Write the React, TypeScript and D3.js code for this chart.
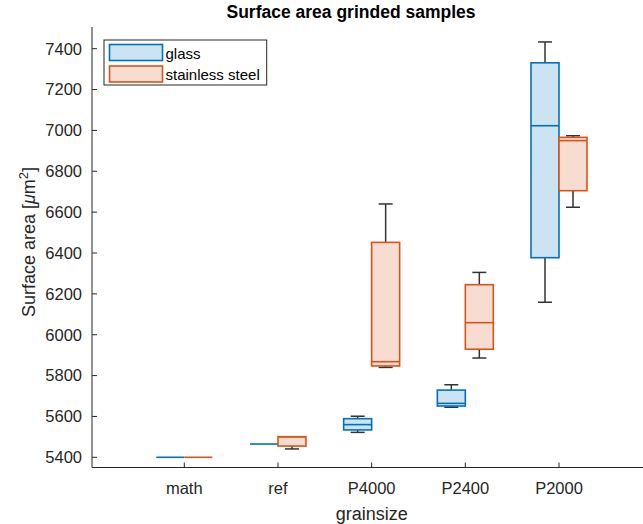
import React from "react";
import * as d3 from "d3";

const categories = ["math", "ref", "P4000", "P2400", "P2000"];
const yTicks = [5400, 5600, 5800, 6000, 6200, 6400, 6600, 6800, 7000, 7200, 7400];

const glassMin = [5400, 5465, 5522, 5645, 6159];
const glassQ1 = [5400, 5465, 5534, 5651, 6377];
const glassMedian = [5400, 5465, 5560, 5664, 7023];
const glassQ3 = [5400, 5465, 5589, 5729, 7331];
const glassMax = [5400, 5465, 5601, 5755, 7433];

const steelMin = [5400, 5441, 5840, 5886, 6624];
const steelQ1 = [5400, 5455, 5847, 5929, 6705];
const steelMedian = [5400, 5500, 5868, 6059, 6950];
const steelQ3 = [5400, 5501, 6452, 6245, 6966];
const steelMax = [5400, 5501, 6640, 6305, 6974];

const seriesNames = ["glass", "stainless steel"];

const W = 643;
const H = 524;
const axisLeft = 92;
const axisBottom = 467.5;
const axisTop = 27;
const FONT = "'Liberation Sans', Arial, Helvetica, sans-serif";
const TXT = "#262626";

const series = [
  { name: seriesNames[0], min: glassMin, q1: glassQ1, med: glassMedian, q3: glassQ3, max: glassMax, edge: "#0072BD", fill: "rgb(204,227,242)", side: -1 },
  { name: seriesNames[1], min: steelMin, q1: steelQ1, med: steelMedian, q3: steelQ3, max: steelMax, edge: "#D95319", fill: "rgb(247,221,209)", side: 1 },
];

export default function App() {
  const x = d3.scaleLinear().domain([1, 5]).range([184.3, 559]);
  const y = d3.scaleLinear().domain([5400, 7400]).range([457.3, 48.7]);
  const bw = 28;

  return (
    <svg
      width={W}
      height={H}
      style={{ position: "absolute", left: 0, top: 0, background: "#fff" }}
      fontFamily={FONT}
    >
      <rect x={0} y={0} width={W} height={H} fill="#fff" />
      {/* title */}
      <text x={351} y={17.5} textAnchor="middle" fontSize={17.5} fontWeight="bold" fill="#000">
        Surface area grinded samples
      </text>

      {/* boxes */}
      {series.map((s) =>
        categories.map((c, i) => {
          const cx = x(i + 1);
          const x0 = s.side < 0 ? cx - bw : cx;
          const x1 = x0 + bw;
          const mid = (x0 + x1) / 2;
          const capW = bw / 2;
          const yq1 = y(s.q1[i]);
          const yq3 = y(s.q3[i]);
          const ymin = y(s.min[i]);
          const ymax = y(s.max[i]);
          const ymed = y(s.med[i]);
          return (
            <g key={s.name + c}>
              {ymax < yq3 - 0.5 && (
                <>
                  <line x1={mid} x2={mid} y1={yq3} y2={ymax} stroke="#333" strokeWidth={1.5} />
                  <line x1={mid - capW / 2} x2={mid + capW / 2} y1={ymax} y2={ymax} stroke="#333" strokeWidth={1.5} />
                </>
              )}
              {ymin > yq1 + 0.5 && (
                <>
                  <line x1={mid} x2={mid} y1={yq1} y2={ymin} stroke="#333" strokeWidth={1.5} />
                  <line x1={mid - capW / 2} x2={mid + capW / 2} y1={ymin} y2={ymin} stroke="#333" strokeWidth={1.5} />
                </>
              )}
              <rect
                x={x0}
                y={yq3}
                width={bw}
                height={Math.max(0, yq1 - yq3)}
                fill={s.fill}
                stroke={s.edge}
                strokeWidth={1.6}
              />
              <line x1={x0} x2={x1} y1={ymed} y2={ymed} stroke={s.edge} strokeWidth={1.6} />
            </g>
          );
        })
      )}

      {/* axes */}
      <line x1={axisLeft} x2={axisLeft} y1={axisTop} y2={axisBottom} stroke={TXT} strokeWidth={1} />
      <line x1={axisLeft} x2={W} y1={axisBottom} y2={axisBottom} stroke={TXT} strokeWidth={1} />
      {yTicks.map((t) => (
        <g key={t}>
          <line x1={axisLeft} x2={axisLeft + 5} y1={y(t)} y2={y(t)} stroke={TXT} strokeWidth={1} />
          <text x={82} y={y(t) + 5.8} textAnchor="end" fontSize={16.5} fill={TXT}>
            {t}
          </text>
        </g>
      ))}
      {categories.map((c, i) => (
        <g key={c}>
          <line x1={x(i + 1)} x2={x(i + 1)} y1={axisBottom} y2={axisBottom - 5} stroke={TXT} strokeWidth={1} />
          <text x={x(i + 1)} y={493.5} textAnchor="middle" fontSize={16.5} fill={TXT}>
            {c}
          </text>
        </g>
      ))}

      {/* axis labels */}
      <text x={x(3)} y={520} textAnchor="middle" fontSize={18} fill={TXT}>
        grainsize
      </text>
      <text transform="translate(35,242) rotate(-90)" textAnchor="middle" fontSize={18} fill={TXT}>
        Surface area [<tspan fontStyle="italic">μ</tspan>m<tspan baselineShift="super" fontSize={13}>2</tspan>]
      </text>

      {/* legend */}
      <rect x={104} y={40} width={162.7} height={45} fill="#fff" stroke={TXT} strokeWidth={1} />
      {series.map((s, k) => (
        <g key={s.name}>
          <rect x={109.5} y={44.5 + k * 21.5} width={53} height={16} fill={s.fill} stroke={s.edge} strokeWidth={1.6} />
          <text x={165.5} y={58.5 + k * 21.5} fontSize={15} fill="#000">
            {s.name}
          </text>
        </g>
      ))}
    </svg>
  );
}
